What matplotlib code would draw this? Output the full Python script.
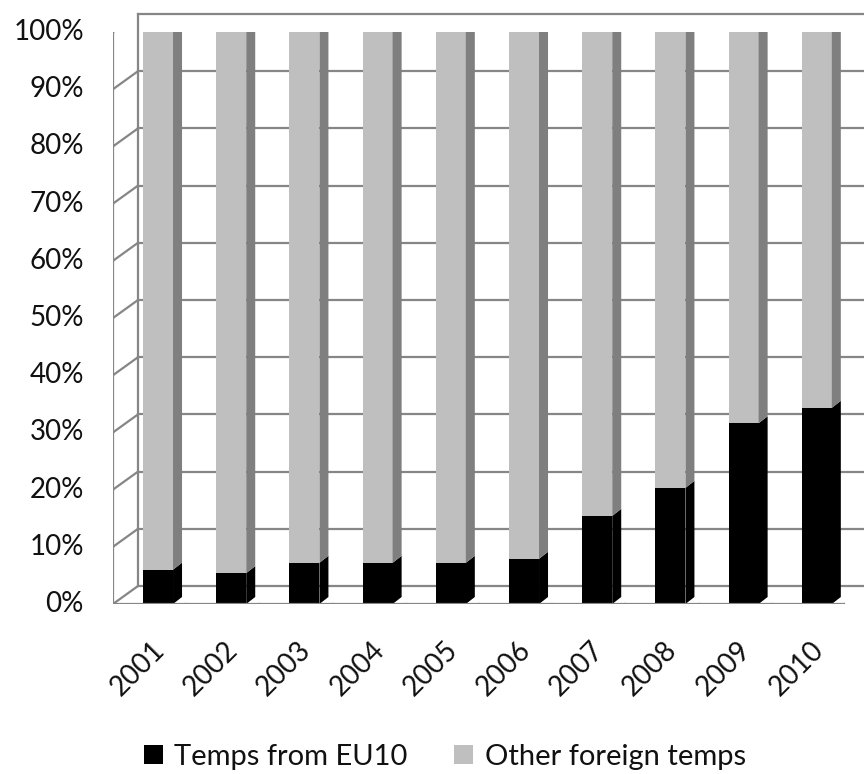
import matplotlib
matplotlib.use("Agg")
import matplotlib.pyplot as plt
from matplotlib.patches import Polygon, Patch
from matplotlib.lines import Line2D
from matplotlib.transforms import Affine2D, IdentityTransform

plt.rcParams['font.family'] = ['Lato', 'DejaVu Sans']

years = ['2001', '2002', '2003', '2004', '2005', '2006', '2007', '2008', '2009', '2010']
eu10 = [6.0, 5.4, 7.2, 7.2, 7.2, 7.9, 15.4, 20.3, 31.6, 34.3]
other = [100 - v for v in eu10]
series_names = ['Temps from EU10', 'Other foreign temps']
ytick_vals = [0, 10, 20, 30, 40, 50, 60, 70, 80, 90, 100]
ytick_labels = [f'{v}%' for v in ytick_vals]

C_BLACK = '#000000'
C_GRAY = '#BFBFBF'
C_GRAY_SIDE = '#7F7F7F'
C_GRAY_TOP = '#8C8C8C'
C_GRID = '#868686'
C_TEXT = '#111111'

W, H, DPI = 864, 774, 100
fig = plt.figure(figsize=(W / DPI, H / DPI), dpi=DPI)
ax = fig.add_axes([113 / W, 170 / H, 732 / W, 572 / H])
ax.set_xlim(0, len(years))
ax.set_ylim(0, 100)
ax.axis('off')

# 3D offsets (pixels)
WALL_DX, WALL_DY = 25, 18
BAR_DX, BAR_DY = 9, 7
ident = IdentityTransform()
back = ax.transData + Affine2D().translate(WALL_DX, WALL_DY)
fig.canvas.draw()

def disp(x, y):
    return ax.transData.transform((x, y))

lw = 1.6
# back wall gridlines + left wall diagonals
for v, lab in zip(ytick_vals, ytick_labels):
    ax.plot([0, len(years) + 1], [v, v], color=C_GRID, lw=lw, transform=back, clip_on=False, zorder=1)
    p = disp(0, v)
    ax.add_line(Line2D([p[0], p[0] + WALL_DX], [p[1], p[1] + WALL_DY], color=C_GRID, lw=lw,
                       transform=ident, zorder=1))
    ax.add_line(Line2D([p[0] - 8, p[0]], [p[1], p[1]], color=C_GRID, lw=lw, transform=ident, zorder=1))
    ax.text(p[0] - 29, p[1], lab, transform=ident, ha='right', va='center',
            fontsize=20, color=C_TEXT)

# back wall left edge
ax.plot([0, 0], [0, 100], color=C_GRID, lw=lw, transform=back, clip_on=False, zorder=1)
# front value axis
p0, p1 = disp(0, 0), disp(0, 100)
ax.add_line(Line2D([p0[0], p1[0]], [p0[1], p1[1]], color=C_GRID, lw=lw, transform=ident, zorder=1))
# right floor diagonal
pr = disp(len(years), 0)
ax.add_line(Line2D([pr[0], pr[0] + WALL_DX], [pr[1], pr[1] + WALL_DY], color=C_GRID, lw=lw,
                   transform=ident, zorder=1))
# front category axis
ax.add_line(Line2D([p0[0], pr[0]], [p0[1], pr[1]], color=C_GRID, lw=lw, transform=ident, zorder=4))
for i in range(len(years) + 1):
    q = disp(i, 0)
    ax.add_line(Line2D([q[0], q[0]], [q[1], q[1] - 9], color=C_GRID, lw=lw, transform=ident, zorder=4))

# bars
BAR_OFF, BAR_W = 0.41, 0.41
xs = [i + BAR_OFF + BAR_W / 2 for i in range(len(years))]
ax.bar(xs, eu10, width=BAR_W, color=C_BLACK, zorder=3)
ax.bar(xs, other, bottom=eu10, width=BAR_W, color=C_GRAY, zorder=3)

def side(xr, y0, y1, color):
    a, b = disp(xr, y0), disp(xr, y1)
    pts = [(a[0], a[1]), (a[0] + BAR_DX, a[1] + BAR_DY), (b[0] + BAR_DX, b[1] + BAR_DY), (b[0], b[1])]
    ax.add_patch(Polygon(pts, closed=True, facecolor=color, edgecolor='none', transform=ident, zorder=3))

for i, (e, o) in enumerate(zip(eu10, other)):
    xl = i + BAR_OFF
    xr = xl + BAR_W
    side(xr, 0, e, C_BLACK)
    side(xr, e, e + o, C_GRAY_SIDE)
    a, b = disp(xl, e + o), disp(xr, e + o)
    top = [(a[0], a[1]), (b[0], b[1]), (b[0] + BAR_DX, b[1] + BAR_DY), (a[0] + BAR_DX, a[1] + BAR_DY)]
    ax.add_patch(Polygon(top, closed=True, facecolor=C_GRAY_TOP, edgecolor='none', transform=ident, zorder=3))

# category labels
for i, yr in enumerate(years):
    q = disp(i + 0.5, 0)
    ax.text(q[0] + 11, q[1] - 42, yr, transform=ident, rotation=45, rotation_mode='anchor',
            ha='right', va='center', fontsize=20, color=C_TEXT)

handles = [Patch(facecolor=C_BLACK, edgecolor='none'), Patch(facecolor=C_GRAY, edgecolor='none')]
fig.legend(handles, series_names, loc='center', bbox_to_anchor=(0.515, 1 - 757 / H), ncol=2, frameon=False,
           fontsize=21, handlelength=0.65, handleheight=0.65, handletextpad=0.4, columnspacing=1.6,
           labelcolor=C_TEXT)

fig.savefig('out.png', dpi=DPI)
